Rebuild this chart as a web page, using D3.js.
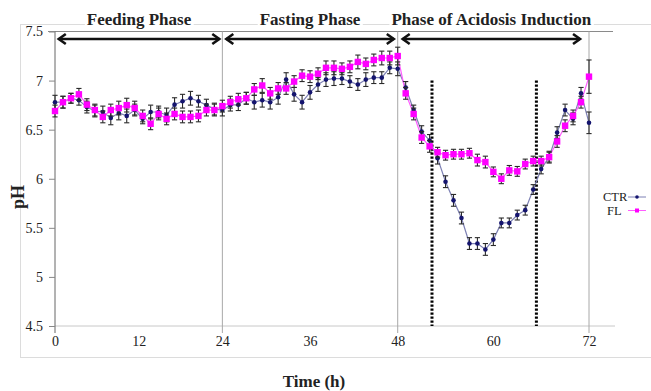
<!DOCTYPE html>
<html>
<head>
<meta charset="utf-8">
<script src="https://cdn.jsdelivr.net/npm/d3@7"></script>
<style>
  body { margin: 0; background: #fff; }
  svg text { font-family: "Liberation Serif", "Times New Roman", serif; fill: #222; }
</style>
</head>
<body>
<div id="chart"></div>
<script>
// pH readings, one per sampling point (Excel category axis, 68 points)
const ctrValues = [
  6.78, 6.78, 6.82, 6.80, 6.73, 6.69, 6.68, 6.62, 6.67, 6.64, 6.70, 6.61, 6.68, 6.68, 6.65, 6.755, 6.79, 6.82, 6.79, 6.75, 6.71, 6.70,
  6.75, 6.755, 6.82, 6.78, 6.80, 6.78, 6.83, 7.01, 6.86, 6.78, 6.88, 6.96, 7.01,
  7.02, 7.02, 6.99, 6.96, 7.01, 7.03, 7.03, 7.13, 7.12,
  6.93, 6.70, 6.48, 6.39, 6.21, 5.97, 5.78, 5.60, 5.34, 5.34, 5.28, 5.38, 5.55, 5.55, 5.63, 5.68, 5.89, 6.10, 6.22, 6.47, 6.70, 6.61, 6.87, 6.57
];
const flValues = [
  6.69, 6.78, 6.82, 6.86, 6.755, 6.70, 6.63, 6.70, 6.72, 6.75, 6.72, 6.64, 6.56, 6.66, 6.61, 6.66, 6.63, 6.63, 6.64, 6.70, 6.70, 6.74,
  6.78, 6.81, 6.82, 6.91, 6.95, 6.87, 6.92, 6.92, 6.99, 7.05, 7.04, 7.07, 7.13,
  7.13, 7.12, 7.14, 7.19, 7.17, 7.21, 7.23, 7.23, 7.25,
  6.87, 6.66, 6.42, 6.33, 6.27, 6.24, 6.25, 6.25, 6.26, 6.19, 6.17, 6.07, 6.00, 6.085, 6.075, 6.15, 6.18, 6.18, 6.22, 6.38, 6.54, 6.64, 6.78, 7.04
];
// error bar half-lengths
const ctrErrors = [
  0.07, 0.06, 0.05, 0.05, 0.06, 0.06, 0.06, 0.07, 0.07, 0.07, 0.06, 0.05, 0.07, 0.06, 0.07, 0.07, 0.07, 0.07, 0.06, 0.06, 0.06, 0.06,
  0.06, 0.06, 0.06, 0.07, 0.07, 0.07, 0.07, 0.07, 0.07, 0.07, 0.07, 0.07, 0.07,
  0.07, 0.06, 0.06, 0.06, 0.07, 0.06, 0.06, 0.06, 0.07,
  0.06, 0.05, 0.06, 0.06, 0.06, 0.06, 0.06, 0.06, 0.06, 0.06, 0.06, 0.06, 0.05, 0.05, 0.05, 0.05, 0.05, 0.05, 0.06, 0.06, 0.06, 0.06, 0.06, 0.11
];
const flErrors = [
  0.06, 0.06, 0.05, 0.06, 0.06, 0.06, 0.06, 0.06, 0.07, 0.07, 0.07, 0.06, 0.06, 0.06, 0.06, 0.06, 0.06, 0.06, 0.06, 0.06, 0.06, 0.06,
  0.06, 0.06, 0.06, 0.06, 0.07, 0.06, 0.06, 0.06, 0.06, 0.06, 0.06, 0.06, 0.07,
  0.07, 0.06, 0.06, 0.07, 0.06, 0.06, 0.07, 0.07, 0.09,
  0.06, 0.06, 0.06, 0.06, 0.05, 0.05, 0.05, 0.05, 0.05, 0.06, 0.06, 0.05, 0.05, 0.05, 0.05, 0.05, 0.05, 0.05, 0.05, 0.06, 0.06, 0.06, 0.06, 0.17
];

// axis ticks
const hourTicks = [0, 12, 24, 36, 48, 60, 72];
const hourLines = [0, 24, 48, 72];
const yTicks = [4.5, 5, 5.5, 6, 6.5, 7, 7.5];

// phases (hours) and the two dotted marks
const phaseNames = ["Feeding Phase", "Fasting Phase", "Phase of Acidosis Induction"];
const phaseStarts = [0.4, 24.4, 48.5];
const phaseEnds = [23.7, 47.6, 71];
const dottedHours = [52.3, 65.4];

const series = [
  { name: "CTR", values: ctrValues, errors: ctrErrors, color: "#14146e", line: "#7d80b4" },
  { name: "FL", values: flValues, errors: flErrors, color: "#ff00ff", line: "#ff5cff" }
];

const serif = "'Liberation Serif', 'Times New Roman', serif";
const w = 651, h = 391;
const svg = d3.select("#chart").append("svg")
  .attr("width", w)
  .attr("height", h);

// scales: points sit on an index axis, hours map onto it piecewise
const xIdx = d3.scaleLinear().domain([0, 67]).range([55, 589]);
const xHour = d3.scaleLinear().domain([0, 24, 48, 72]).range([xIdx(0), xIdx(21), xIdx(43), xIdx(67)]);
const y = d3.scaleLinear().domain([4.5, 7.5]).range([326, 31.5]);

// outer chart frame
svg.append("rect")
  .attr("x", 20.5).attr("y", 24.5)
  .attr("width", 660).attr("height", 333)
  .attr("fill", "none")
  .attr("stroke", "#dcdcdc");

// plot top border
svg.append("line")
  .attr("x1", 48).attr("x2", 613)
  .attr("y1", y(7.5)).attr("y2", y(7.5))
  .attr("stroke", "#8a8a8a");

// x axis baseline
svg.append("line")
  .attr("x1", 55).attr("x2", 615)
  .attr("y1", y(4.5)).attr("y2", y(4.5))
  .attr("stroke", "#c8c8c8");

// vertical gridlines at 0 / 24 / 48 / 72
svg.selectAll(".vline")
  .data(hourLines)
  .enter()
  .append("line")
  .attr("x1", d => xHour(d)).attr("x2", d => xHour(d))
  .attr("y1", y(7.5)).attr("y2", y(4.5) + 7)
  .attr("stroke", d => d === 0 ? "#666" : "#a8a8a8");

// y axis
const yAxis = svg.append("g")
  .attr("transform", "translate(55,0)")
  .call(d3.axisLeft(y).tickValues(yTicks).tickSize(6).tickPadding(6).tickFormat(d => String(d)));
yAxis.attr("font-family", serif);
yAxis.select(".domain").remove();
yAxis.selectAll(".tick line").attr("stroke", "#888");
yAxis.selectAll("text").style("font-size", "14px").style("font-family", serif).attr("fill", "#222");

// x axis labels
const xAxis = svg.append("g")
  .attr("transform", "translate(0," + y(4.5) + ")")
  .call(d3.axisBottom(xHour).tickValues(hourTicks).tickSize(0).tickPadding(10));
xAxis.attr("font-family", serif);
xAxis.select(".domain").remove();
xAxis.selectAll("text").style("font-size", "14px").style("font-family", serif).attr("fill", "#222");

// dotted marks in acidosis phase
svg.selectAll(".dotted")
  .data(dottedHours)
  .enter()
  .append("line")
  .attr("x1", d => xHour(d)).attr("x2", d => xHour(d))
  .attr("y1", y(7.0)).attr("y2", y(4.5))
  .attr("stroke", "#000")
  .attr("stroke-width", 3)
  .attr("stroke-dasharray", "2.2 1.8");

// series
const line = d3.line().x((d, i) => xIdx(i)).y(d => y(d));
series.forEach(s => {
  svg.append("path")
    .attr("d", line(s.values))
    .attr("fill", "none")
    .attr("stroke", s.line)
    .attr("stroke-width", 1.2);
});

series.forEach(s => {
  const g = svg.append("g");
  const bars = g.selectAll(".err")
    .data(s.values)
    .enter()
    .append("g");
  bars.append("line")
    .attr("x1", (d, i) => xIdx(i)).attr("x2", (d, i) => xIdx(i))
    .attr("y1", (d, i) => y(d + s.errors[i])).attr("y2", (d, i) => y(d - s.errors[i]))
    .attr("stroke", "#2a2a2a").attr("stroke-width", 1.1);
  [1, -1].forEach(sign => {
    bars.append("line")
      .attr("x1", (d, i) => xIdx(i) - 2.6).attr("x2", (d, i) => xIdx(i) + 2.6)
      .attr("y1", (d, i) => y(d + sign * s.errors[i])).attr("y2", (d, i) => y(d + sign * s.errors[i]))
      .attr("stroke", "#2a2a2a").attr("stroke-width", 1.1);
  });
  if (s.name === "CTR") {
    g.selectAll(".mk")
      .data(s.values)
      .enter()
      .append("circle")
      .attr("cx", (d, i) => xIdx(i))
      .attr("cy", d => y(d))
      .attr("r", 2.3)
      .attr("fill", s.color);
  } else {
    g.selectAll(".mk")
      .data(s.values)
      .enter()
      .append("rect")
      .attr("x", (d, i) => xIdx(i) - 3.2)
      .attr("y", d => y(d) - 3.2)
      .attr("width", 6.4).attr("height", 6.4)
      .attr("fill", s.color);
  }
});

// phase arrows and titles
const arrowY = 39;
phaseNames.forEach((name, k) => {
  const x1 = xHour(phaseStarts[k]), x2 = xHour(phaseEnds[k]);
  const g = svg.append("g").attr("stroke", "#111").attr("stroke-width", 2.6).attr("fill", "none");
  g.append("line").attr("x1", x1 + 1).attr("x2", x2 - 1).attr("y1", arrowY).attr("y2", arrowY);
  g.append("path").attr("d", `M${x1 + 8},${arrowY - 5} L${x1 + 1},${arrowY} L${x1 + 8},${arrowY + 5}`);
  g.append("path").attr("d", `M${x2 - 8},${arrowY - 5} L${x2 - 1},${arrowY} L${x2 - 8},${arrowY + 5}`);

  const cx = (x1 + x2) / 2;
  const bg = svg.append("rect").attr("fill", "#fff");
  const t = svg.append("text")
    .attr("x", cx).attr("y", 25)
    .attr("text-anchor", "middle")
    .style("font-size", "17px").style("font-weight", "bold")
    .text(name);
  const bb = t.node().getBBox();
  bg.attr("x", bb.x - 2).attr("y", bb.y + 2)
    .attr("width", bb.width + 4).attr("height", bb.height - 3);
});

// legend
series.forEach((s, k) => {
  const ly = 197 + k * 13.5;
  svg.append("text")
    .attr("x", k === 0 ? 603 : 607).attr("y", ly + 4)
    .style("font-size", "12.5px")
    .text(s.name);
  svg.append("line")
    .attr("x1", 628).attr("x2", 646).attr("y1", ly).attr("y2", ly)
    .attr("stroke", s.line).attr("stroke-width", 1);
  if (k === 0) {
    svg.append("circle").attr("cx", 637).attr("cy", ly).attr("r", 1.8).attr("fill", s.color);
  } else {
    svg.append("rect").attr("x", 635).attr("y", ly - 2).attr("width", 4).attr("height", 4).attr("fill", s.color);
  }
});

// axis titles
svg.append("text")
  .attr("transform", "translate(24,197) rotate(-90)")
  .attr("text-anchor", "middle")
  .style("font-size", "18px").style("font-weight", "bold")
  .text("pH");
svg.append("text")
  .attr("x", 314).attr("y", 387)
  .attr("text-anchor", "middle")
  .style("font-size", "17px").style("font-weight", "bold")
  .text("Time (h)");
</script>
</body>
</html>
